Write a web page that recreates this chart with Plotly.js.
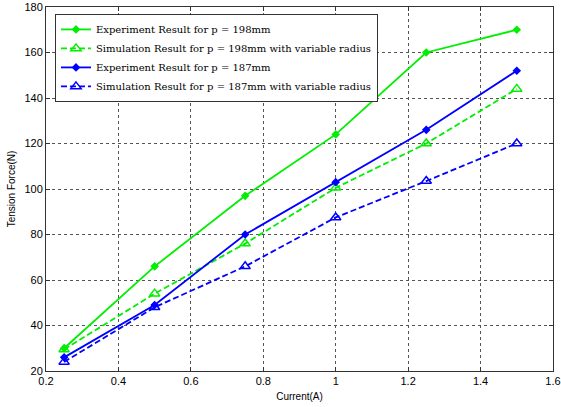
<!DOCTYPE html>
<html>
<head>
<meta charset="utf-8">
<script src="https://cdn.plot.ly/plotly-3.0.1.min.js"></script>
<style>html,body{margin:0;padding:0;background:#fff;}#chart{width:561px;height:407px;}</style>
</head>
<body>
<div id="chart"></div>
<script>
const current = [0.25, 0.5, 0.75, 1.0, 1.25, 1.5];
const exp198 = [30, 66, 97, 124, 160, 170];
const sim198 = [29.5, 54, 76, 100.5, 120, 144];
const exp187 = [26, 49, 80, 103, 126, 152];
const sim187 = [24, 48, 66, 87.5, 103.5, 120];
const names = [
  'Experiment Result for p = 198mm',
  'Simulation Result for p = 198mm with variable radius',
  'Experiment Result for p = 187mm',
  'Simulation Result for p = 187mm with variable radius'
];
const xTicks = [0.2, 0.4, 0.6, 0.8, 1, 1.2, 1.4, 1.6];
const yTicks = [20, 40, 60, 80, 100, 120, 140, 160, 180];

const green = '#00ee00', blue = '#0000ff';
function tr(y, name, color, dash, sym, size) {
  return {x: current, y: y, name: name, type: 'scatter', mode: 'lines+markers',
    line: {color: color, width: 1.8, dash: dash},
    marker: {symbol: sym, size: size, color: color, line: {color: color, width: 1.5}}};
}
const data = [
  tr(exp198, names[0], green, 'solid', 'diamond', 5),
  tr(sim198, names[1], green, '6px,3px', 'triangle-up-open', 9),
  tr(exp187, names[2], blue, 'solid', 'diamond', 5),
  tr(sim187, names[3], blue, '6px,3px', 'triangle-up-open', 9)
];
const axisCommon = {
  showline: true, linecolor: '#333', linewidth: 1, mirror: 'ticks',
  ticks: 'inside', ticklen: 4, tickcolor: '#333',
  showgrid: true, gridcolor: '#555', griddash: 'dot', gridwidth: 1,
  zeroline: false, tickfont: {family: 'Liberation Sans, Arial', size: 11, color: '#000'}
};
const layout = {
  width: 561, height: 407,
  margin: {l: 46, r: 8, t: 7, b: 36},
  paper_bgcolor: '#fff', plot_bgcolor: '#fff',
  showlegend: true,
  legend: {x: 0.0177, y: 0.981, xanchor: 'left', yanchor: 'top',
    bgcolor: '#fff', bordercolor: '#333', borderwidth: 1,
    font: {family: 'DejaVu Serif', size: 10, color: '#000'},
    tracegroupgap: 0},
  xaxis: Object.assign({}, axisCommon, {range: [0.2, 1.6], tickvals: xTicks, ticktext: xTicks.map(String),
    title: {text: 'Current(A)', font: {family: 'Liberation Sans, Arial', size: 10, color: '#000'}, standoff: 6}}),
  yaxis: Object.assign({}, axisCommon, {range: [20, 180], tickvals: yTicks,
    title: {text: 'Tension Force(N)', font: {family: 'Liberation Sans, Arial', size: 10, color: '#000'}, standoff: 6}})
};
Plotly.newPlot('chart', data, layout, {displayModeBar: false, staticPlot: true});
</script>
</body>
</html>
